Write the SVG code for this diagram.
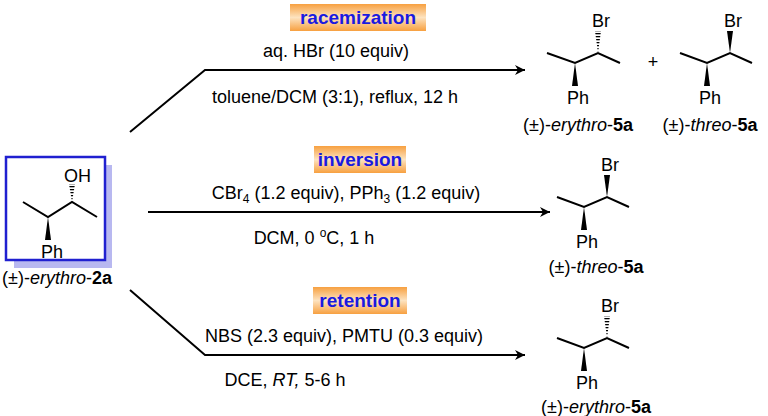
<svg xmlns="http://www.w3.org/2000/svg" width="768" height="416" viewBox="0 0 768 416">
<defs>
<linearGradient id="og" x1="0" y1="0" x2="0" y2="1"><stop offset="0" stop-color="#f7a040"/><stop offset="0.5" stop-color="#fde3c0"/><stop offset="1" stop-color="#f7a040"/></linearGradient>
<marker id="ah" viewBox="0 0 10 10" refX="10" refY="5" markerWidth="28" markerHeight="10" markerUnits="userSpaceOnUse" orient="auto"><path d="M0,0 L10,5 L0,10 L3,5 Z" fill="#000"/></marker>
<pattern id="hash" width="4" height="3" patternUnits="userSpaceOnUse"><rect width="4" height="1.3" fill="#000"/></pattern>
</defs>
<style>
text{font-family:"Liberation Sans",Arial,sans-serif;font-size:18px;fill:#000}
.m{text-anchor:middle}
.lab{font-weight:bold;fill:#1a1ae0;font-size:19px;text-anchor:middle}
.b{stroke:#000;stroke-width:2;fill:none}
.c{stroke:#000;stroke-width:2;fill:none}
</style>
<g id="connectors">
<path class="c" d="M130,132 L205,70 L525,70" marker-end="url(#ah)"/>
<path class="c" d="M148,212 L550,212" marker-end="url(#ah)"/>
<path class="c" d="M130,290 L205,355 L525,355" marker-end="url(#ah)"/>
</g>
<g id="label-racemization"><rect x="290" y="4" width="136" height="27" fill="url(#og)"/><text class="lab" x="358" y="24">racemization</text></g>
<g id="label-inversion"><rect x="314" y="146" width="92" height="27" fill="url(#og)"/><text class="lab" x="360" y="166">inversion</text></g>
<g id="label-retention"><rect x="313" y="287" width="94" height="27" fill="url(#og)"/><text class="lab" x="360" y="307">retention</text></g>
<g id="conditions">
<text class="m" x="336" y="57">aq. HBr (10 equiv)</text>
<text class="m" x="335" y="103">toluene/DCM (3:1), reflux, 12 h</text>
<text class="m" x="346" y="199">CBr<tspan font-size="12" dy="4">4</tspan><tspan dy="-4"> (1.2 equiv), PPh</tspan><tspan font-size="12" dy="4">3</tspan><tspan dy="-4"> (1.2 equiv)</tspan></text>
<text class="m" x="314" y="244">DCM, 0 <tspan font-size="12" dy="-7">o</tspan><tspan dy="7">C, 1 h</tspan></text>
<text class="m" x="344" y="342">NBS (2.3 equiv), PMTU (0.3 equiv)</text>
<text class="m" x="285" y="386">DCE, <tspan font-style="italic">RT,</tspan> 5-6 h</text>
</g>
<g id="node-2a">
<rect x="14" y="165" width="98" height="103" fill="#b8b8f0"/>
<rect x="6" y="157" width="99" height="103" fill="#fff" stroke="#2020d0" stroke-width="2.5"/>
<path class="b" d="M23,202 L48,217 L72,202 L97,217"/>
<polygon points="48,217 45,240 51,240" fill="#000"/>
<polygon points="72,202 69,184 75,184" fill="url(#hash)"/>
<text x="64" y="182">OH</text>
<text class="m" x="52" y="258">Ph</text>
<text class="m" x="57" y="284">(±)-<tspan font-style="italic">erythro</tspan>-<tspan font-weight="bold">2a</tspan></text>
</g>
<g id="node-erythro-5a-top">
<path class="b" d="M547,53 L575,63 L598,53 L620,63"/>
<polygon points="575,63 572,86 578,86" fill="#000"/>
<polygon points="598,53 595,31 601,31" fill="url(#hash)"/>
<text class="m" x="601" y="27">Br</text>
<text class="m" x="578" y="104">Ph</text>
<text class="m" x="578" y="131">(±)-<tspan font-style="italic">erythro</tspan>-<tspan font-weight="bold">5a</tspan></text>
</g>
<text class="m" x="653" y="68">+</text>
<g id="node-threo-5a-top">
<path class="b" d="M680,53 L707,63 L730,53 L752,63"/>
<polygon points="707,63 704,86 710,86" fill="#000"/>
<polygon points="730,53 727,31 733,31" fill="#000"/>
<text class="m" x="733" y="27">Br</text>
<text class="m" x="710" y="104">Ph</text>
<text class="m" x="710" y="131">(±)-<tspan font-style="italic">threo</tspan>-<tspan font-weight="bold">5a</tspan></text>
</g>
<g id="node-threo-5a-mid">
<path class="b" d="M557,197 L584,207 L607,197 L629,207"/>
<polygon points="584,207 581,230 587,230" fill="#000"/>
<polygon points="607,197 604,175 610,175" fill="#000"/>
<text class="m" x="610" y="171">Br</text>
<text class="m" x="587" y="248">Ph</text>
<text class="m" x="596" y="273">(±)-<tspan font-style="italic">threo</tspan>-<tspan font-weight="bold">5a</tspan></text>
</g>
<g id="node-erythro-5a-bot">
<path class="b" d="M557,338 L584,348 L607,338 L629,348"/>
<polygon points="584,348 581,371 587,371" fill="#000"/>
<polygon points="607,338 604,316 610,316" fill="url(#hash)"/>
<text class="m" x="610" y="312">Br</text>
<text class="m" x="587" y="389">Ph</text>
<text class="m" x="596" y="413">(±)-<tspan font-style="italic">erythro</tspan>-<tspan font-weight="bold">5a</tspan></text>
</g>
</svg>
